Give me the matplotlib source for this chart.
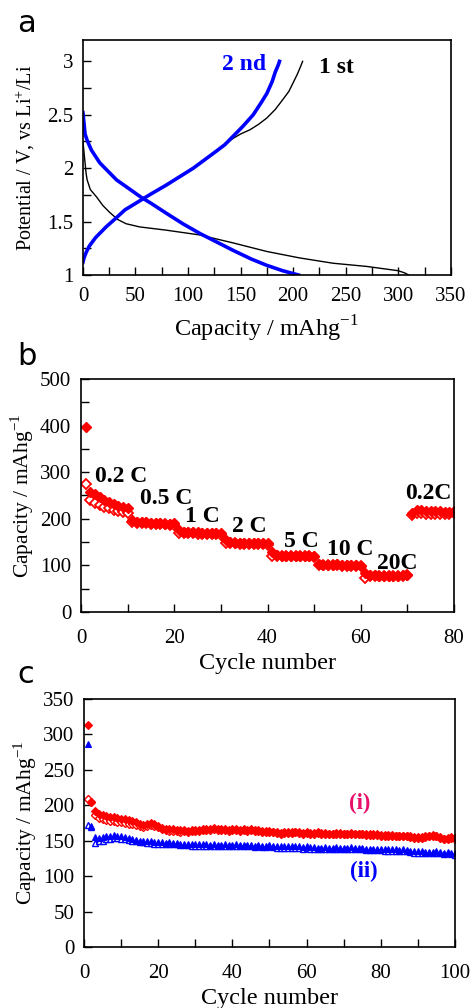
import numpy as np
import matplotlib.pyplot as plt
from matplotlib.ticker import MultipleLocator

plt.rcParams['font.family'] = ['Liberation Serif', 'DejaVu Serif']
plt.rcParams['mathtext.fontset'] = 'custom'
plt.rcParams['mathtext.rm'] = 'Liberation Serif'

# Panel a: charge / discharge curves (capacity mAh/g, potential V)
dis2_x = [0, 1, 2, 4, 8, 16, 25, 32, 45, 55, 65, 79, 95, 111, 127, 143, 160, 175, 190, 205]
dis2_y = [2.52, 2.42, 2.32, 2.26, 2.17, 2.05, 1.96, 1.89, 1.80, 1.73, 1.67, 1.58, 1.48, 1.39,
          1.31, 1.23, 1.15, 1.09, 1.04, 1.0]
chg2_x = [0, 1, 3, 6, 12, 22, 30, 40, 55, 65, 79, 92, 105, 116, 127, 135, 143, 152, 162, 170,
          175, 180, 183, 186, 187]
chg2_y = [1.12, 1.16, 1.21, 1.27, 1.35, 1.45, 1.52, 1.61, 1.70, 1.76, 1.84, 1.92, 2.00, 2.08,
          2.16, 2.22, 2.30, 2.39, 2.50, 2.62, 2.70, 2.81, 2.90, 2.97, 3.0]
dis1_x = [0, 1, 2, 3, 4, 7, 13, 19, 25, 33, 41, 54, 79, 111, 143, 175, 206, 238, 270, 300, 306, 310]
dis1_y = [2.25, 2.15, 2.05, 1.95, 1.89, 1.80, 1.73, 1.65, 1.59, 1.52, 1.48, 1.45, 1.42, 1.375,
          1.30, 1.22, 1.16, 1.11, 1.08, 1.04, 1.02, 1.0]
chg1_x = [0, 1, 3, 6, 12, 22, 30, 40, 55, 65, 79, 92, 105, 116, 127, 135, 143, 150, 159, 167,
          175, 183, 190, 196, 200, 204, 207, 209]
chg1_y = [1.12, 1.16, 1.21, 1.27, 1.35, 1.45, 1.52, 1.61, 1.70, 1.76, 1.84, 1.92, 2.00, 2.08,
          2.16, 2.22, 2.28, 2.32, 2.36, 2.41, 2.47, 2.55, 2.64, 2.72, 2.80, 2.88, 2.95, 3.0]

# Panel b: rate capability, 80 cycles
rate_dis = [397,
            258, 252, 246, 240, 236, 232, 228, 225, 222,
            197, 193, 192, 192, 191, 190, 190, 189, 189, 190,
            176, 172, 171, 171, 171, 170, 170, 170, 169, 169,
            155, 150, 149, 149, 148, 148, 148, 147, 147, 147,
            128, 122, 121, 121, 121, 121, 120, 120, 120, 121,
            103, 101, 101, 101, 103, 101, 100, 100, 100, 99,
            84, 79, 79, 78, 78, 78, 78, 78, 79, 80,
            213, 219, 218, 217, 217, 216, 216, 215, 215, 216]
rate_chg = [275,
            240, 234, 230, 226, 222, 219, 216, 214, 213,
            192, 191, 190, 190, 189, 189, 188, 188, 187, 187,
            170, 169, 169, 169, 168, 168, 168, 167, 167, 166,
            148, 147, 147, 146, 146, 146, 145, 145, 145, 144,
            119, 120, 120, 120, 119, 119, 119, 119, 119, 118,
            100, 100, 100, 100, 100, 99, 99, 99, 99, 98,
            73, 77, 77, 77, 77, 77, 77, 78, 78, 79,
            208, 212, 212, 211, 211, 211, 210, 210, 210, 212]
rate_labels = ['0.2 C', '0.5 C', '1 C', '2 C', '5 C', '10 C', '20C', '0.2C']
rate_lab_x = [8.7, 18.2, 26.0, 36.2, 47.3, 57.7, 67.9, 74.5]
rate_lab_y = [291, 244, 205, 184, 151, 134, 104, 254]

# Panel c: cycling, 100 cycles
i_dis = [313, 205, 192, 188, 186, 185, 184, 183, 182, 181,
         180, 179, 178, 176, 174, 172, 174, 175, 174, 171,
         168, 167, 166, 166, 165, 165, 165, 164, 165, 165,
         165, 166, 166, 166, 168, 166, 166, 166, 165, 166,
         166, 165, 166, 165, 166, 165, 165, 164, 164, 164,
         163, 162, 161, 162, 162, 162, 163, 162, 161, 162,
         161, 161, 162, 161, 161, 160, 160, 161, 161, 160,
         160, 161, 160, 160, 160, 159, 159, 159, 159, 158,
         158, 158, 158, 157, 157, 157, 157, 156, 155, 155,
         155, 156, 157, 158, 157, 155, 153, 154, 155, 154]
i_chg = [209, 204, 186, 182, 180, 179, 178, 178, 177, 176,
         175, 174, 173, 172, 171, 170, 171, 172, 171, 169,
         166, 165, 164, 164, 164, 163, 164, 163, 164, 164,
         164, 165, 165, 165, 166, 165, 165, 165, 164, 165,
         165, 164, 165, 164, 165, 164, 164, 163, 163, 163,
         162, 161, 160, 161, 161, 161, 162, 161, 160, 161,
         160, 160, 161, 160, 160, 159, 159, 160, 160, 159,
         159, 160, 159, 159, 159, 158, 158, 158, 158, 157,
         157, 157, 157, 156, 156, 156, 156, 155, 154, 154,
         154, 155, 156, 157, 156, 154, 152, 153, 154, 153]
ii_dis = [287, 171, 155, 154, 155, 156, 157, 158, 157, 156,
          155, 154, 153, 151, 150, 150, 149, 149, 148, 148,
          148, 147, 148, 147, 147, 146, 146, 146, 145, 145,
          145, 145, 145, 144, 145, 144, 144, 145, 144, 144,
          145, 144, 144, 144, 144, 143, 144, 143, 143, 144,
          143, 142, 142, 142, 142, 142, 142, 142, 141, 142,
          141, 141, 140, 140, 141, 140, 140, 141, 140, 140,
          140, 141, 140, 140, 140, 139, 139, 139, 139, 139,
          138, 138, 138, 138, 137, 138, 137, 136, 135, 135,
          135, 134, 134, 134, 135, 134, 133, 134, 133, 132]
ii_chg = [172, 170, 147, 149, 150, 152, 153, 154, 154, 153,
          152, 151, 150, 149, 148, 148, 147, 147, 146, 146,
          146, 145, 146, 145, 145, 144, 144, 144, 143, 143,
          143, 143, 143, 142, 143, 142, 142, 143, 142, 142,
          143, 142, 142, 142, 142, 141, 142, 141, 141, 142,
          141, 140, 140, 140, 140, 140, 140, 140, 139, 140,
          139, 139, 138, 138, 139, 138, 138, 139, 138, 138,
          138, 139, 138, 138, 138, 137, 137, 137, 137, 137,
          136, 136, 136, 136, 135, 136, 135, 134, 133, 133,
          133, 132, 132, 132, 133, 132, 131, 132, 131, 130]

fs_tick = 15
red = '#ff0000'
blue = '#0000ff'


def style(ax, xpad):
    ax.tick_params(which='both', direction='in', top=False, right=False,
                   labelsize=fs_tick, width=1, length=6)
    ax.tick_params(axis='y', pad=7)
    ax.tick_params(axis='x', pad=xpad)
    for s in ax.spines.values():
        s.set_linewidth(1.2)


fig = plt.figure(figsize=(4.74, 10.08), dpi=100)

# ---- a
ax1 = fig.add_axes([0.175, 0.7272, 0.776, 0.2331])
ax1.plot(dis1_x, dis1_y, color='black', lw=1)
ax1.plot(chg1_x, chg1_y, color='black', lw=1)
ax1.plot(dis2_x, dis2_y, color=blue, lw=2.6)
ax1.plot(chg2_x, chg2_y, color=blue, lw=2.6)
ax1.set_xlim(0, 350)
ax1.set_ylim(1, 3.2)
ax1.xaxis.set_major_locator(MultipleLocator(50))
ax1.xaxis.set_minor_locator(MultipleLocator(25))
ax1.yaxis.set_minor_locator(MultipleLocator(0.25))
ax1.set_yticks([1, 1.5, 2, 2.5, 3], ['1', '1.5', '2', '2.5', '3'])
style(ax1, 8.5)
ax1.set_xlabel('Capacity / mAhg$^{-1}$', fontsize=17.5, labelpad=6)
ax1.set_ylabel('Potential / V, vs Li$^{+}$/Li', fontsize=14.5, labelpad=7)
ax1.text(153.5, 2.97, '2 nd', color=blue, fontsize=17, fontweight='bold', ha='center', va='center')
ax1.text(241.6, 2.94, '1 st', color='black', fontsize=17, fontweight='bold', ha='center', va='center')

# ---- b
ax2 = fig.add_axes([0.1709, 0.3929, 0.787, 0.2312])
cyc_b = np.arange(1, len(rate_dis) + 1)
ax2.plot(cyc_b, rate_chg, linestyle='none', marker='D', ms=5.2, mfc='white', mec=red, mew=1.3)
ax2.plot(cyc_b, rate_dis, linestyle='none', marker='D', ms=5.2, mfc=red, mec=red, mew=1)
ax2.set_xlim(0, 80)
ax2.set_ylim(0, 500)
ax2.xaxis.set_major_locator(MultipleLocator(20))
ax2.xaxis.set_minor_locator(MultipleLocator(10))
ax2.yaxis.set_major_locator(MultipleLocator(100))
ax2.yaxis.set_minor_locator(MultipleLocator(50))
style(ax2, 12)
ax2.set_xlabel('Cycle number', fontsize=17.5, labelpad=4)
ax2.set_ylabel('Capacity / mAhg$^{-1}$', fontsize=15.5, labelpad=3)
for lab, x, y in zip(rate_labels, rate_lab_x, rate_lab_y):
    ax2.text(x, y, lab, fontsize=17, fontweight='bold', ha='center', va='center')

# ---- c
ax3 = fig.add_axes([0.1772, 0.0605, 0.7827, 0.246])
cyc_c = np.arange(1, len(i_dis) + 1)
ax3.plot(cyc_c, i_chg, linestyle='none', marker='D', ms=3.6, mfc='white', mec=red, mew=1)
ax3.plot(cyc_c, i_dis, linestyle='none', marker='D', ms=3.6, mfc=red, mec=red, mew=0.8)
ax3.plot(cyc_c, ii_chg, linestyle='none', marker='^', ms=4.8, mfc='white', mec=blue, mew=1)
ax3.plot(cyc_c, ii_dis, linestyle='none', marker='^', ms=4.8, mfc=blue, mec=blue, mew=0.8)
ax3.set_xlim(0, 100)
ax3.set_ylim(0, 350)
ax3.xaxis.set_major_locator(MultipleLocator(20))
ax3.xaxis.set_minor_locator(MultipleLocator(10))
ax3.yaxis.set_major_locator(MultipleLocator(50))
style(ax3, 12)
ax3.set_xlabel('Cycle number', fontsize=17.5, labelpad=4)
ax3.set_ylabel('Capacity / mAhg$^{-1}$', fontsize=15.5, labelpad=3)
ax3.text(74.2, 202, '(i)', color='#e8106a', fontsize=16.5, fontweight='bold', ha='center', va='center')
ax3.text(75.3, 106, '(ii)', color=blue, fontsize=16.5, fontweight='bold', ha='center', va='center')

for lab, y in zip(['a', 'b', 'c'], [0.968, 0.638, 0.3224]):
    fig.text(0.036, y, lab, fontsize=22, family='DejaVu Sans', va='baseline')

fig.savefig('out.png', dpi=100)
